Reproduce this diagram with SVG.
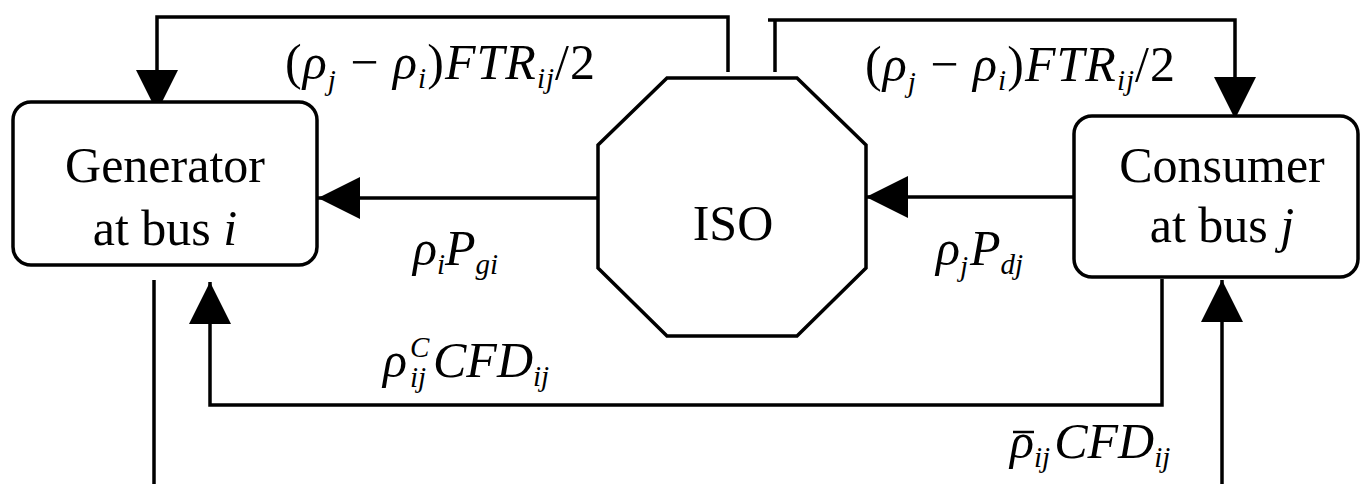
<svg xmlns="http://www.w3.org/2000/svg" width="1360" height="484" viewBox="0 0 1360 484">
<defs>
<style>
.node{fill:#fff;stroke:#000;stroke-width:3.5}
.txt{font-family:"Liberation Serif","Times New Roman",serif;font-size:50px;fill:#000}
.it{font-style:italic}
.sub{font-size:29px;font-style:italic}
.conn{fill:none;stroke:#000;stroke-width:3.5}
</style>
<marker id="arr" markerUnits="userSpaceOnUse" markerWidth="42" markerHeight="42" refX="40" refY="20" orient="auto" viewBox="0 0 40 40">
<path d="M0,0 L40,20 L0,40 Z" fill="#000"/>
</marker>
</defs>
<rect width="1360" height="484" fill="#fff"/>
<g id="connectors">
<path class="conn" d="M728,72 V17 H157 V112" marker-end="url(#arr)"/>
<path class="conn" d="M775,72 V20"/>
<path class="conn" d="M768,20 H1235 V119" marker-end="url(#arr)"/>
<path class="conn" d="M598,198 H318" marker-end="url(#arr)"/>
<path class="conn" d="M1074,197 H866" marker-end="url(#arr)"/>
<path class="conn" d="M1162,279 V405 H210 V282" marker-end="url(#arr)"/>
<path class="conn" d="M154,280 V484"/>
<path class="conn" d="M1222,484 V280" marker-end="url(#arr)"/>
</g>
<g id="generator">
<rect class="node" x="13" y="102" width="304" height="163" rx="18"/>
<text class="txt" x="165" y="182" text-anchor="middle">Generator</text>
<text class="txt" x="165" y="245" text-anchor="middle">at bus <tspan class="it">i</tspan></text>
</g>
<g id="iso">
<polygon class="node" points="667,78 797,78 866,145 866,268 797,336 667,336 598,268 598,145"/>
<text class="txt" x="733" y="240" text-anchor="middle">ISO</text>
</g>
<g id="consumer">
<rect class="node" x="1074" y="116" width="284" height="161" rx="18"/>
<text class="txt" x="1222" y="182" text-anchor="middle">Consumer</text>
<text class="txt" x="1222" y="242" text-anchor="middle">at bus <tspan class="it">j</tspan></text>
</g>
<g id="labels">
<text class="txt" x="285" y="79" textLength="310">(<tspan class="it">ρ</tspan><tspan class="sub" dy="11">j</tspan><tspan dy="-11"> − </tspan><tspan class="it">ρ</tspan><tspan class="sub" dy="9">i</tspan><tspan dy="-9">)</tspan><tspan class="it">FTR</tspan><tspan class="sub" dy="9">ij</tspan><tspan dy="-9">/2</tspan></text>
<text class="txt" x="865" y="81" textLength="310">(<tspan class="it">ρ</tspan><tspan class="sub" dy="11">j</tspan><tspan dy="-11"> − </tspan><tspan class="it">ρ</tspan><tspan class="sub" dy="9">i</tspan><tspan dy="-9">)</tspan><tspan class="it">FTR</tspan><tspan class="sub" dy="9">ij</tspan><tspan dy="-9">/2</tspan></text>
<text class="txt" x="413" y="265"><tspan class="it">ρ</tspan><tspan class="sub" dy="9">i</tspan><tspan class="it" dy="-9">P</tspan><tspan class="sub" dy="9">gi</tspan></text>
<text class="txt" x="936" y="265"><tspan class="it">ρ</tspan><tspan class="sub" dy="11">j</tspan><tspan class="it" dx="2" dy="-11">P</tspan><tspan class="sub" dy="9">dj</tspan></text>
<text class="txt" x="383" y="377"><tspan class="it">ρ</tspan><tspan class="sub" x="410" dy="-20">C</tspan><tspan class="sub" x="410" dy="30">ij</tspan><tspan class="it" x="433" dy="-10">CFD</tspan><tspan class="sub" dy="9">ij</tspan></text>
<text class="txt" x="1010" y="458"><tspan class="it">ρ</tspan><tspan class="sub" dy="9">ij</tspan><tspan class="it" dx="4" dy="-9">CFD</tspan><tspan class="sub" dy="9">ij</tspan></text>
<line x1="1013" y1="432" x2="1034" y2="432" stroke="#000" stroke-width="2.5"/>
</g>
</svg>
